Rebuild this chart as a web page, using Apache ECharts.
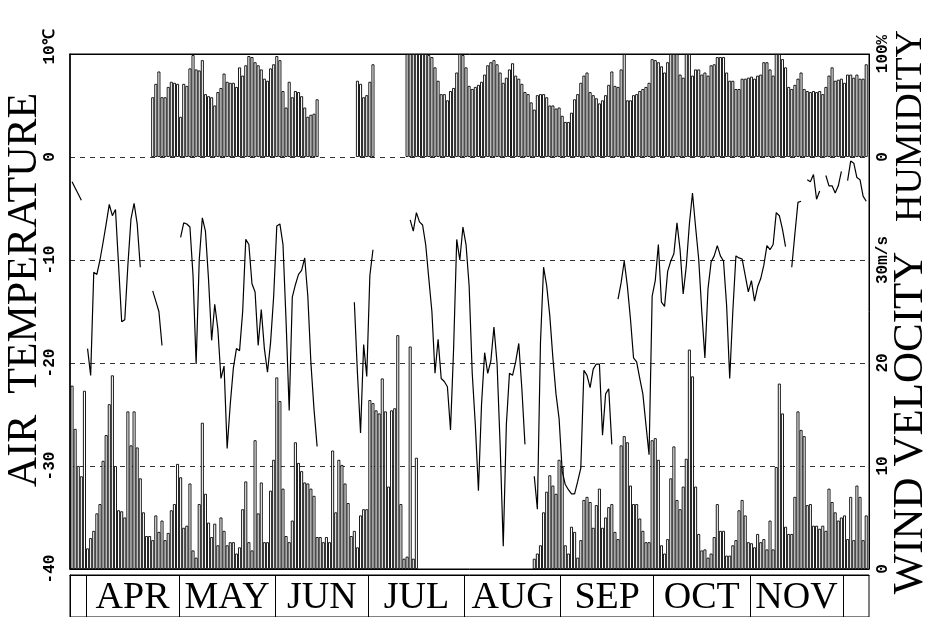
<!DOCTYPE html>
<html>
<head>
<meta charset="utf-8">
<script src="https://cdn.jsdelivr.net/npm/echarts@6/dist/echarts.min.js"></script>
<style>html,body{margin:0;padding:0;background:#fff;}#c{width:925px;height:617px;}</style>
</head>
<body>
<div id="c"></div>
<script>
// Day index relative to 1 April (first day shown: 27 March = -5)
const startDay = -5;
const months = ['APR', 'MAY', 'JUN', 'JUL', 'AUG', 'SEP', 'OCT', 'NOV'];
const monthStart = [0, 30, 61, 91, 122, 153, 183, 214, 244];
const tempTicks = [-40, -30, -20, -10, 0, 10];
const humidityTicks = [0, 100];
const windTicks = [0, 10, 20, 30];

// Daily relative humidity (%), 27 Mar .. 8 Dec
const humidity = [
  null,null,null,null,null,null,null,null,null,null,null,null,null,null,null,null,null,null,null,null,null,null,null,null,null,null,
  58,71,83,58,58,68,73,72,71,39,71,69,86,99,85,84,94,61,59,58,50,63,67,81,73,72,72,68,87,79,89,98,97,92,89,85,76,74,86,90,98,94,64,48,73,58,64,63,59,48,39,41,42,56,
  null,null,null,null,null,null,null,null,null,null,null,null,
  74,71,58,60,73,90,
  null,null,null,null,null,null,null,null,null,null,
  100,100,100,100,100,100,100,99,97,87,74,61,61,55,64,67,82,100,99,87,69,66,68,70,
  73,80,89,92,94,90,82,72,77,85,91,79,76,71,63,61,53,46,60,61,61,58,50,50,47,48,40,34,34,43,56,61,72,79,82,63,60,57,52,55,60,70,83,69,68,85,100,55,
  55,60,61,64,66,68,72,95,94,92,88,82,92,100,100,100,80,77,100,100,79,85,85,80,82,79,89,90,97,97,
  97,82,74,74,66,66,76,76,77,78,76,79,80,92,92,85,79,100,100,95,87,68,66,70,76,82,66,64,63,64,
  63,64,61,68,79,87,74,75,76,72,80,80,77,80,76,76,90
];

// Daily mean wind velocity (m/s)
const wind = [
  17.8,13.6,10,9,17.3,2.0,3.0,3.7,5.4,6.3,
  10.5,13,16,18.8,10,5.7,5.6,5,15.3,12,
  15.3,11.8,8.8,5.5,3.2,3.2,2.8,5.2,3.6,4.7,
  2.8,3.5,5.7,6.3,10.2,8.9,4,4.2,8.3,1.8,
  1.1,6.3,14.2,7.3,4.5,3.1,4.4,2.3,5,3.7,
  2.3,2.6,2.6,1.5,2.1,5.8,8.5,2.6,1.8,12.5,
  5.4,8.4,2.6,2.6,7.6,10.6,18.6,16.3,7.8,3.2,
  2.6,4.7,12.3,10.3,9.5,8.4,8.3,7.8,7.1,3.1,
  3.1,2.6,3.1,2.6,11.5,5.5,10.6,10.1,8.3,6.4,
  3.2,3.7,2.1,5.2,5.8,5.8,16.4,16.1,15.4,15.1,
  18.5,15.3,8,15.4,15.6,22.7,6.3,1.0,1.2,21.6,
  1,10.8,
  null,null,null,null,null,null,null,null,null,null,null,null,null,null,null,null,null,null,null,null,null,null,null,null,null,null,null,null,null,null,null,null,null,null,null,null,null,
  1.0,1.5,2.3,5.5,7.5,9.1,8.1,7.3,10.6,9.9,
  2.3,1.5,4.1,3.6,1.1,2.8,6.7,7.0,6.5,4.0,
  6.2,7.8,4.0,5.0,6.0,6.3,3.6,2.9,12.0,12.9,
  12.3,8.1,6.3,6.3,4.9,3.7,2.6,2.6,12.5,12.7,
  10.6,2.3,1.5,2.9,8.8,11.9,6.7,5.8,8.0,10.7,
  21.3,18.7,8.0,3.4,1.8,1.9,1.1,1.5,3.1,6.3,
  3.7,3.7,1.3,1.3,2.3,2.8,5.7,6.7,5.2,2.6,
  2.5,2.1,3.4,2.6,2.9,1.9,4.7,1.9,9.9,18,
  15.1,4.1,3.4,3.4,7.0,15.3,13.5,12.9,6.2,6.3,
  4.2,4.2,3.9,4.2,3.7,7.8,6.5,5.5,4.7,5.0,
  5.2,2.9,7.0,2.8,8.1,7.0,2.8,5.2
];

// Daily mean air temperature (deg C)
const temperature = [
  -2.4,-3.0,-3.6,-4.2,null,
  -18.6,-21.2,-11.2,-11.4,-10.0,-8.3,-6.5,-4.6,-5.7,-5.1,-10.5,-16.0,-15.8,-10.5,-6.0,-4.5,-6.5,-10.7,
  null,null,null,
  -13.0,-14.0,-15.0,-18.3,
  null,null,null,null,null,
  -7.8,-6.4,-6.5,-6.8,-11.5,-20.1,-10.0,-5.9,-7.2,-11.9,
  -17.8,-14.3,-16.7,-21.5,-20.3,-28.3,-24.0,-20.5,-18.6,-18.8,
  -15.0,-8.0,-8.5,-12.3,-13.1,-18.3,-14.8,-18.6,-20.9,-18.0,
  -13.5,-6.7,-6.5,-8.5,-16.0,-24.6,-13.6,-12.4,-11.4,-11.0,
  -9.8,-13.5,-20.0,-24.5,-28.1,
  null,null,null,null,null,null,null,null,null,null,null,
  -14.1,-21.0,-26.8,-18.2,-21.3,-11.5,-9.0,
  null,null,null,null,null,null,null,null,null,null,null,
  -6.1,-7.2,-5.4,-6.3,-6.6,-8.5,-11.8,-15.0,-21.0,-17.7,
  -21.5,-21.8,-22.3,-26.5,-18.6,-8.0,-10.0,-6.8,-8.5,-12.5,
  -21.0,-26.0,-32.4,-24.0,-19.0,-21.0,-19.8,-16.5,-20.0,-28.0,
  -37.8,-26.0,-21.0,-21.2,-19.9,-18.1,-22.5,-27.9,
  null,null,
  -31.0,-34.2,-18.0,-10.7,-12.5,-15.4,-19.5,-23.0,-25.4,-30.5,
  -31.8,-32.3,-32.7,-32.7,-31.5,-30.2,-20.7,-21.2,-22.4,-20.6,
  -20.1,-20.1,-27.0,-23.0,-22.5,-27.9,
  null,
  -13.8,-12.2,-10.1,-12.5,-15.7,-19.5,-19.9,-21.5,-23.0,-26.0,
  -28.9,-13.5,-12.0,-8.5,-14.1,-14.5,-11.1,-10.1,-9.4,-6.4,
  -9.0,-13.3,-10.6,-6.5,-3.5,-6.8,-9.9,-15.0,-19.5,-12.8,
  -10.2,-9.6,-8.6,-9.6,-10.1,-14.4,-21.5,-15.0,-9.6,-9.8,
  -9.9,-11.5,-13.1,-12.0,-14.0,-12.6,-11.8,-10.5,-8.6,-9.0,
  -8.5,-5.4,-5.7,-7.0,-8.7,
  null,
  -10.7,-7.5,-4.4,-4.3,
  null,
  -2.2,-2.4,-1.7,-4.1,-3.3,
  null,
  -1.8,-2.8,-2.8,-3.5,-2.8,-1.4,
  null,
  -2.3,-0.4,-0.6,-2.0,-2.2,-3.8,-4.3
];

const toPairs = arr => arr.map((v, i) => [startDay + i + 0.5, v]);
const monthCenters = months.map((m, i) => (monthStart[i] + monthStart[i + 1]) / 2);
const monthName = {};
monthCenters.forEach((c, i) => { monthName[c] = months[i]; });

const xMin = -5.16, xMax = 252.4;
const tickFont = { fontFamily: 'Liberation Mono', fontWeight: 'bold', fontSize: 16, color: '#000' };
const barStyle = { color: '#fff', borderColor: '#000', borderWidth: 0.9 };
const black = { color: '#000', width: 1 };

const chart = echarts.init(document.getElementById('c'));
chart.setOption({
  animation: false,
  backgroundColor: '#fff',
  grid: [
    { left: 70, right: 56, top: 54, bottom: 48, show: true, borderColor: '#000', borderWidth: 1 },
    { left: 70, right: 56, top: 575, height: 70, show: true, borderColor: '#000', borderWidth: 1 }
  ],
  xAxis: [
    { gridIndex: 0, type: 'value', min: xMin, max: xMax,
      axisLine: { show: true, onZero: false, lineStyle: black },
      axisTick: { show: false }, axisLabel: { show: false }, splitLine: { show: false } },
    { gridIndex: 1, type: 'value', min: xMin, max: xMax, position: 'top',
      axisLine: { show: true, onZero: false, lineStyle: black },
      axisTick: { show: true, inside: true, length: 70, customValues: monthStart, lineStyle: black },
      axisLabel: { inside: true, customValues: monthCenters, margin: 4,
        formatter: v => monthName[v] || '',
        fontFamily: 'Liberation Serif', fontSize: 38, color: '#000' },
      splitLine: { show: false } },
    { gridIndex: 0, type: 'value', min: xMin, max: xMax, position: 'top',
      axisLine: { show: true, onZero: false, lineStyle: black },
      axisTick: { show: false }, axisLabel: { show: false }, splitLine: { show: false } }
  ],
  yAxis: [
    { gridIndex: 0, type: 'value', min: -40, max: 10, interval: 10, position: 'left',
      axisLine: { show: true, onZero: false, lineStyle: { color: '#000', width: 1.5 } },
      axisTick: { show: false },
      axisLabel: Object.assign({ rotate: 90, margin: 12, customValues: tempTicks,
        formatter: v => v === 10 ? '{top|10℃}' : String(v),
        rich: { top: { fontFamily: 'Liberation Mono', fontWeight: 'bold', fontSize: 16, color: '#000', padding: [0, 0, 0, 14] } } }, tickFont),
      splitLine: { show: true, lineStyle: { color: '#333', type: [5, 5], width: 1 } } },
    { gridIndex: 0, type: 'value', min: -400, max: 100, position: 'right',
      axisLine: { show: true, onZero: false, lineStyle: black }, axisTick: { show: false }, splitLine: { show: false },
      axisLabel: Object.assign({ rotate: 90, margin: 6, customValues: humidityTicks,
        formatter: v => v === 100 ? '100%' : String(v) }, tickFont) },
    { gridIndex: 0, type: 'value', min: 0, max: 50, position: 'right',
      axisLine: { show: false, onZero: false }, axisTick: { show: false }, splitLine: { show: false },
      axisLabel: Object.assign({ rotate: 90, margin: 6, customValues: windTicks,
        formatter: v => v === 30 ? '30m/s' : String(v) }, tickFont) },
    { gridIndex: 1, type: 'value', min: 0, max: 1, position: 'left',
      axisLine: { show: true, onZero: false, lineStyle: black },
      axisTick: { show: false }, axisLabel: { show: false }, splitLine: { show: false } }
  ],
  graphic: [
    { type: 'text', x: 25, y: 290, rotation: Math.PI / 2,
      style: { text: 'AIR  TEMPERATURE', align: 'center', verticalAlign: 'middle', font: '42px "Liberation Serif"', fill: '#000' } },
    { type: 'text', x: 911, y: 423, rotation: Math.PI / 2,
      style: { text: 'WIND VELOCITY', align: 'center', verticalAlign: 'middle', font: '43px "Liberation Serif"', fill: '#000' } },
    { type: 'text', x: 911, y: 126, rotation: Math.PI / 2,
      style: { text: 'HUMIDITY', align: 'center', verticalAlign: 'middle', font: '38px "Liberation Serif"', fill: '#000' } }
  ],
  series: [
    { name: 'wind', type: 'bar', xAxisIndex: 0, yAxisIndex: 2, barWidth: 3, data: toPairs(wind), itemStyle: barStyle, z: 2 },
    { name: 'humidity', type: 'bar', xAxisIndex: 2, yAxisIndex: 1, barWidth: 3, data: toPairs(humidity), itemStyle: barStyle, z: 2 },
    { name: 'temperature', type: 'line', xAxisIndex: 0, yAxisIndex: 0, data: toPairs(temperature),
      showSymbol: false, connectNulls: false, lineStyle: { color: '#000', width: 1.2 }, z: 5 }
  ]
});
</script>
</body>
</html>
